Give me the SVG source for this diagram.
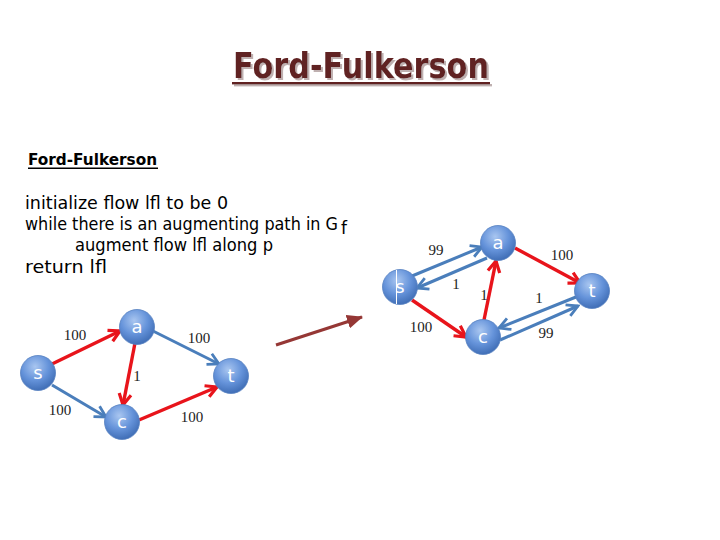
<svg xmlns="http://www.w3.org/2000/svg" width="720" height="540" viewBox="0 0 720 540">
<defs>
<radialGradient id="nodeGrad" cx="0.42" cy="0.32" r="0.7">
<stop offset="0" stop-color="#A9C6F0"/>
<stop offset="0.55" stop-color="#6593DA"/>
<stop offset="1" stop-color="#3E6CB4"/>
</radialGradient>
<filter id="shadow" x="-5%" y="-20%" width="110%" height="140%">
<feDropShadow dx="2" dy="2" stdDeviation="0.6" flood-color="#B8A8A8" flood-opacity="0.9"/>
</filter>
<marker id="arRed" markerUnits="userSpaceOnUse" markerWidth="16" markerHeight="16" viewBox="0 0 16 16" refX="14" refY="8" orient="auto">
<path d="M3,2 L14,8 L3,14" fill="none" stroke="#E8141B" stroke-width="3.2" stroke-linejoin="miter"/>
</marker>
<marker id="arBlue" markerUnits="userSpaceOnUse" markerWidth="16" markerHeight="16" viewBox="0 0 16 16" refX="14" refY="8" orient="auto">
<path d="M3,2 L14,8 L3,14" fill="none" stroke="#4A7EBB" stroke-width="2.8" stroke-linejoin="miter"/>
</marker>
<marker id="arBig" markerUnits="userSpaceOnUse" markerWidth="16" markerHeight="14" viewBox="0 0 16 14" refX="15" refY="7" orient="auto">
<path d="M0,0 L16,7 L0,14 Z" fill="#953735"/>
</marker>
</defs>
<style>
.node circle{fill:url(#nodeGrad);stroke:#5580C0;stroke-width:0.8}
.node text{font-family:"DejaVu Sans","Liberation Sans",sans-serif;font-size:18px;fill:#FFFFFF;text-anchor:middle}
.red{stroke:#E8141B;stroke-width:3.4;fill:none;marker-end:url(#arRed)}
.blue{stroke:#4A7EBB;stroke-width:3;fill:none;marker-end:url(#arBlue)}
.lbl{font-family:"Liberation Serif",serif;font-size:15px;fill:#222222;text-anchor:middle}
.code{font-family:"DejaVu Sans","Open Sans",sans-serif;font-size:17px;fill:#000000}
.ttl{font-family:"DejaVu Sans",sans-serif;font-size:36px;font-weight:bold;text-anchor:middle}
</style>
<rect width="720" height="540" fill="#FFFFFF"/>
<g id="title" filter="url(#shadow)">
<text class="ttl" x="361" y="78" fill="#612323" textLength="256" lengthAdjust="spacingAndGlyphs">Ford-Fulkerson</text>
<rect x="232" y="82" width="258" height="2.4" fill="#612323"/>
</g>
<g id="subheading">
<text x="28" y="165" font-family="DejaVu Sans, sans-serif" font-size="16" font-weight="bold" fill="#000000" textLength="129" lengthAdjust="spacingAndGlyphs">Ford-Fulkerson</text>
<rect x="28" y="167.5" width="130" height="1.5" fill="#000000"/>
</g>
<g id="code">
<text class="code" x="25" y="209" textLength="203" lengthAdjust="spacingAndGlyphs">initialize flow lfl to be 0</text>
<text class="code" x="25" y="230" font-size="16" textLength="313" lengthAdjust="spacingAndGlyphs">while there is an augmenting path in G</text>
<text class="code" x="341" y="234" font-size="11">f</text>
<text class="code" x="75" y="251" textLength="198" lengthAdjust="spacingAndGlyphs">augment flow lfl along p</text>
<text class="code" x="25" y="273" textLength="82" lengthAdjust="spacingAndGlyphs">return lfl</text>
</g>
<g id="connectors">
<line class="red" x1="52" y1="364" x2="120" y2="331"/>
<line class="blue" x1="52" y1="385" x2="106" y2="417"/>
<line class="blue" x1="153" y1="331" x2="219" y2="364"/>
<line class="red" x1="135" y1="343" x2="123" y2="405"/>
<line class="red" x1="139" y1="420" x2="217" y2="387"/>
<line x1="276" y1="345" x2="362" y2="317" stroke="#953735" stroke-width="3.2" marker-end="url(#arBig)"/>
<line class="blue" x1="412" y1="276" x2="482" y2="247"/>
<line class="blue" x1="487" y1="258" x2="417" y2="288"/>
<line class="red" x1="412" y1="300" x2="466" y2="337"/>
<line class="red" x1="484" y1="320" x2="496" y2="261"/>
<line class="red" x1="515" y1="248" x2="580" y2="283"/>
<line class="blue" x1="576" y1="297" x2="499" y2="328"/>
<line class="blue" x1="500" y1="340" x2="578" y2="306"/>
</g>
<g id="labels">
<text class="lbl" x="75" y="340">100</text>
<text class="lbl" x="199" y="343">100</text>
<text class="lbl" x="137" y="381">1</text>
<text class="lbl" x="60" y="415">100</text>
<text class="lbl" x="192" y="422">100</text>
<text class="lbl" x="436" y="255">99</text>
<text class="lbl" x="456" y="289">1</text>
<text class="lbl" x="421" y="332">100</text>
<text class="lbl" x="484" y="300">1</text>
<text class="lbl" x="562" y="260">100</text>
<text class="lbl" x="539" y="303">1</text>
<text class="lbl" x="546" y="338">99</text>
</g>
<g id="L-s" class="node"><circle cx="38" cy="373" r="17.5"/><text x="38" y="379">s</text></g>
<g id="L-a" class="node"><circle cx="137" cy="327" r="17.5"/><text x="137" y="333">a</text></g>
<g id="L-t" class="node"><circle cx="231" cy="376" r="17.5"/><text x="231" y="382">t</text></g>
<g id="L-c" class="node"><circle cx="122" cy="422" r="17.5"/><text x="122" y="428">c</text></g>
<g id="R-s" class="node"><circle cx="400" cy="287" r="17.5"/><text x="400" y="293">s</text><line x1="396.5" y1="270" x2="396.5" y2="304" stroke="#FFFFFF" stroke-width="1"/></g>
<g id="R-a" class="node"><circle cx="498" cy="243" r="17.5"/><text x="498" y="249">a</text></g>
<g id="R-t" class="node"><circle cx="592" cy="291" r="17.5"/><text x="592" y="297">t</text></g>
<g id="R-c" class="node"><circle cx="483" cy="337" r="17.5"/><text x="483" y="343">c</text></g>
</svg>
